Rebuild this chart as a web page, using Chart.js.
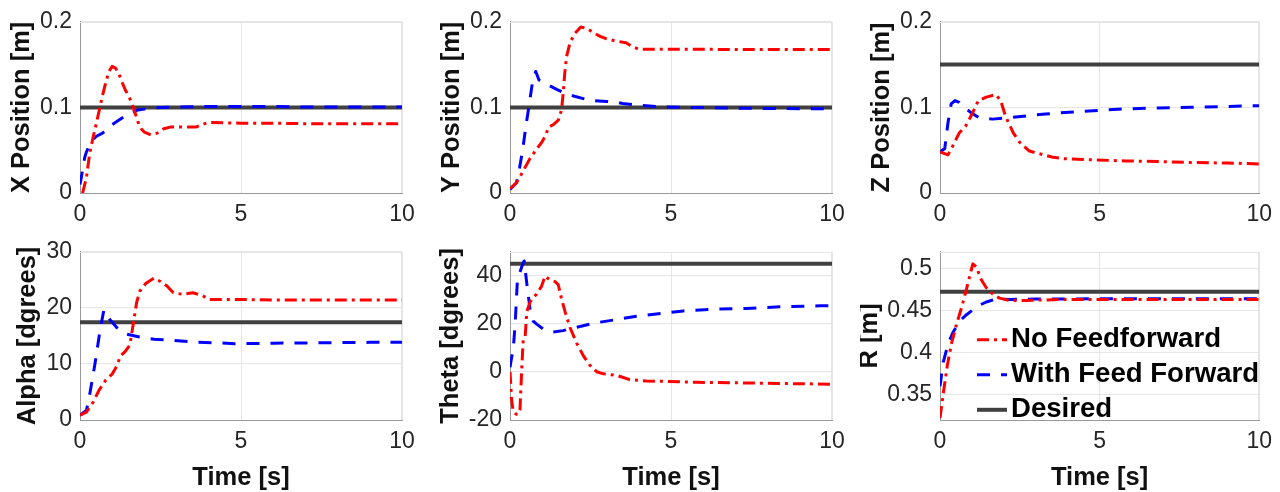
<!DOCTYPE html>
<html>
<head>
<meta charset="utf-8">
<script src="https://cdn.jsdelivr.net/npm/chart.js@4"></script>
<style>
html,body{margin:0;padding:0;background:#fff;}
body{width:1280px;height:492px;position:relative;overflow:hidden;}
.p{position:absolute;}
canvas{display:block;}
</style>
</head>
<body>
<script>
// ---------- data ----------
const timeTicks = [0, 5, 10];
const timeRange = [0, 10];
const posTicks = [0, 0.1, 0.2];
const posRange = [0, 0.2];
const alphaTicks = [0, 10, 20, 30];
const alphaRange = [0, 30];
const thetaTicks = [-20, 0, 20, 40];
const thetaRange = [-20, 50];
const rTicks = [0.35, 0.4, 0.45, 0.5];
const rRange = [0.32, 0.52];
const seriesLabels = ['No Feedforward', 'With Feed Forward', 'Desired'];
const yTitles = ['X Position [m]', 'Y Position [m]', 'Z Position [m]', 'Alpha [dgrees]', 'Theta [dgrees]', 'R [m]'];
const xTitle = 'Time [s]';

// [time s, value]
const xNoFF = [[0.08,0],[0.2,0.018],[0.3,0.046],[0.4,0.064],[0.5,0.08],[0.6,0.097],[0.7,0.114],[0.8,0.129],[0.9,0.142],[1.0,0.148],[1.1,0.146],[1.2,0.14],[1.3,0.13],[1.4,0.121],[1.5,0.114],[1.6,0.106],[1.7,0.095],[1.8,0.083],[1.9,0.075],[2.0,0.071],[2.2,0.068],[2.4,0.07],[2.6,0.075],[2.8,0.077],[3.0,0.077],[3.3,0.077],[3.6,0.077],[3.8,0.08],[4.0,0.0825],[4.5,0.082],[5,0.0815],[6,0.0815],[7,0.081],[8,0.081],[9,0.081],[10,0.081]];
const xFF = [[0,0.01],[0.05,0.02],[0.1,0.032],[0.15,0.042],[0.2,0.048],[0.3,0.056],[0.4,0.062],[0.5,0.066],[0.6,0.068],[0.7,0.07],[0.8,0.073],[0.9,0.077],[1.0,0.08],[1.2,0.085],[1.4,0.09],[1.6,0.094],[1.8,0.097],[2.0,0.098],[2.2,0.099],[2.5,0.1],[3,0.1005],[4,0.101],[5,0.101],[6,0.101],[7,0.1005],[8,0.1005],[9,0.1005],[10,0.1005]];
const xDesired = [[0,0.1],[10,0.1]];

const yNoFF = [[0,0.005],[0.2,0.012],[0.4,0.025],[0.6,0.039],[0.8,0.05],[1.0,0.06],[1.1,0.067],[1.2,0.077],[1.35,0.08],[1.5,0.085],[1.6,0.097],[1.65,0.116],[1.7,0.14],[1.76,0.16],[1.86,0.175],[2.0,0.186],[2.2,0.194],[2.4,0.192],[2.6,0.187],[2.8,0.183],[3.0,0.18],[3.3,0.1775],[3.6,0.1755],[3.8,0.171],[4.0,0.168],[5,0.168],[6,0.168],[7,0.1675],[8,0.1675],[9,0.1675],[10,0.1675]];
const yFF = [[0,0.004],[0.2,0.012],[0.3,0.03],[0.4,0.052],[0.5,0.08],[0.6,0.104],[0.7,0.13],[0.8,0.142],[0.9,0.132],[1.0,0.13],[1.2,0.126],[1.45,0.121],[1.65,0.1175],[2.0,0.113],[2.5,0.108],[3.0,0.107],[3.3,0.106],[3.5,0.1045],[4.0,0.1025],[4.8,0.1005],[6,0.0998],[7,0.099],[8,0.0988],[9,0.0985],[10,0.0983]];
const yDesired = [[0,0.1],[10,0.1]];

const zNoFF = [[0,0.048],[0.25,0.0445],[0.4,0.055],[0.6,0.07],[0.8,0.078],[1.0,0.092],[1.2,0.108],[1.45,0.112],[1.75,0.115],[1.9,0.108],[2.05,0.09],[2.3,0.07],[2.5,0.059],[2.8,0.049],[3.1,0.046],[3.5,0.042],[3.9,0.04],[4.8,0.0387],[5.8,0.0375],[6.8,0.0368],[7.9,0.0356],[9,0.035],[10,0.034]];
const zFF = [[0,0.048],[0.15,0.052],[0.25,0.082],[0.35,0.104],[0.47,0.108],[0.6,0.106],[0.8,0.099],[1.0,0.093],[1.25,0.0875],[1.65,0.0863],[2.2,0.088],[2.7,0.09],[3.3,0.0923],[3.9,0.094],[4.8,0.096],[5.8,0.0983],[6.8,0.0994],[7.9,0.1002],[8.9,0.101],[10,0.102]];
const zDesired = [[0,0.15],[10,0.15]];

const alphaNoFF = [[0,0.85],[0.2,1.4],[0.4,3.1],[0.6,5.4],[0.8,7.1],[1.0,8.2],[1.15,9.7],[1.25,11.4],[1.4,12.2],[1.55,13.4],[1.65,17],[1.76,21],[1.86,23],[2.05,24.4],[2.3,25.3],[2.5,24.7],[2.7,23.9],[2.9,22.7],[3.2,22.4],[3.5,22.7],[3.8,22.2],[4.0,21.5],[5,21.5],[6,21.4],[7,21.4],[8,21.4],[9,21.4],[10,21.4]];
const alphaFF = [[0,0.85],[0.2,1.7],[0.3,4.5],[0.47,10.2],[0.62,15.9],[0.74,19.6],[0.93,17.9],[1.14,16.5],[1.45,15.3],[1.85,14.8],[2.3,14.4],[2.9,14.2],[3.5,13.9],[4.3,13.75],[4.8,13.6],[6,13.7],[7,13.75],[8,13.8],[9,13.85],[10,13.85]];
const alphaDesired = [[0,17.45],[10,17.45]];

const thetaNoFF = [[0,0],[0.05,-11.7],[0.1,-16.3],[0.19,-17.6],[0.26,-17.6],[0.31,-15.7],[0.36,0],[0.41,13.3],[0.47,14.6],[0.52,25],[0.62,29],[0.72,31],[0.83,32.4],[0.98,35.7],[1.09,39.9],[1.24,38.3],[1.4,37.6],[1.5,36.3],[1.6,30.4],[1.71,25.1],[1.86,18.6],[2.07,12],[2.28,6.7],[2.48,2.8],[2.69,0.1],[2.9,-0.8],[3.31,-1.4],[3.72,-3.2],[4.24,-3.8],[4.76,-3.9],[5.79,-4.3],[6.82,-4.5],[7.86,-4.7],[9,-4.9],[10,-5.1]];
const thetaFF = [[0,2],[0.05,6],[0.1,9.3],[0.16,19.9],[0.23,38.3],[0.36,43.6],[0.44,46.2],[0.52,37],[0.62,26.4],[0.72,21.2],[0.83,19.9],[1.03,17.9],[1.34,16.6],[1.65,17.2],[2.07,18.6],[2.69,20.5],[3.31,21.8],[3.93,23.2],[4.76,24.5],[5.38,25.4],[6.31,26.1],[7.34,26.4],[8.38,27.1],[9.62,27.5],[10,27.6]];
const thetaDesired = [[0,45],[10,45]];

const rNoFF = [[0,0.3224],[0.1,0.351],[0.23,0.385],[0.36,0.411],[0.52,0.434],[0.67,0.453],[0.83,0.4755],[0.95,0.4943],[1.03,0.5057],[1.14,0.502],[1.29,0.487],[1.45,0.4773],[1.65,0.4698],[1.86,0.4649],[2.17,0.4622],[2.7,0.4622],[4,0.4634],[6,0.4634],[8,0.4634],[10,0.4634]];
const rFF = [[0,0.36],[0.1,0.3886],[0.26,0.4112],[0.41,0.4244],[0.62,0.4377],[0.83,0.4452],[1.03,0.4509],[1.24,0.4566],[1.45,0.4603],[1.76,0.4641],[2.2,0.4634],[3,0.4638],[5,0.4641],[7,0.4641],[10,0.4641]];
const rDesired = [[0,0.4725],[10,0.4725]];

// ---------- layout / style ----------
const FONT = '"Liberation Sans", Arial, Helvetica, sans-serif';
const panels = [
  {left:0,   top:0,   w:430, h:230, padR:28, padT:15, xH:37, tPad:12,   showX:false, title:yTitles[0], range:posRange,   ticks:posTicks,   s:[xNoFF, xFF, xDesired]},
  {left:430, top:0,   w:430, h:230, padR:28, padT:15, xH:37, tPad:12,   showX:false, title:yTitles[1], range:posRange,   ticks:posTicks,   s:[yNoFF, yFF, yDesired]},
  {left:860, top:0,   w:420, h:230, padR:18, padT:15, xH:37, tPad:12,   showX:false, title:yTitles[2], range:posRange,   ticks:posTicks,   s:[zNoFF, zFF, zDesired]},
  {left:0,   top:230, w:430, h:262, padR:28, padT:14, xH:72, tPad:17.4, showX:true,  title:yTitles[3], range:alphaRange, ticks:alphaTicks, s:[alphaNoFF, alphaFF, alphaDesired]},
  {left:430, top:230, w:430, h:262, padR:28, padT:14, xH:72, tPad:10.8, showX:true,  title:yTitles[4], range:thetaRange, ticks:thetaTicks, s:[thetaNoFF, thetaFF, thetaDesired]},
  {left:860, top:230, w:420, h:262, padR:18, padT:14, xH:72, tPad:0,    showX:true,  title:yTitles[5], range:rRange,     ticks:rTicks,     s:[rNoFF, rFF, rDesired], legend:true}
];
const styles = [
  {borderColor:'#ff0000', borderWidth:3, borderDash:[12,5,3,5], order:0},
  {borderColor:'#0000ff', borderWidth:3, borderDash:[13,11], order:1},
  {borderColor:'#404040', borderWidth:4, borderDash:[], order:2}
];

function toPts(a){ return a.map(p => ({x:p[0], y:p[1]})); }
function fmt(v){ return String(Number(Number(v).toFixed(4))); }

const boxPlugin = {
  id:'boxFrame',
  beforeDatasetsDraw(chart){
    const {ctx, chartArea:a} = chart;
    ctx.save();
    ctx.strokeStyle = '#e4e4e4';
    ctx.lineWidth = 1;
    ctx.beginPath();
    ctx.moveTo(a.left, Math.round(a.top) + 0.5);
    ctx.lineTo(a.right, Math.round(a.top) + 0.5);
    ctx.moveTo(Math.round(a.right) - 0.5, a.top);
    ctx.lineTo(Math.round(a.right) - 0.5, a.bottom);
    ctx.stroke();
    ctx.restore();
  }
};

const legendPlugin = {
  id:'inLegend',
  afterDatasetsDraw(chart){
    const {ctx, chartArea:a} = chart;
    ctx.save();
    ctx.font = 'bold 27.6px ' + FONT;
    ctx.textBaseline = 'middle';
    ctx.textAlign = 'left';
    ctx.fillStyle = '#000';
    chart.data.datasets.forEach((ds, i) => {
      const y = a.top + 88 + i * 35;
      ctx.strokeStyle = ds.borderColor;
      ctx.lineWidth = ds.borderWidth;
      ctx.setLineDash(ds.borderDash || []);
      ctx.beginPath();
      ctx.moveTo(a.left + 37, y);
      ctx.lineTo(a.left + 67, y);
      ctx.stroke();
      ctx.setLineDash([]);
      ctx.fillText(ds.label, a.left + 71, y);
    });
    ctx.restore();
  }
};

panels.forEach(p => {
  const wrap = document.createElement('div');
  wrap.className = 'p';
  wrap.style.left = p.left + 'px';
  wrap.style.top = p.top + 'px';
  wrap.style.width = p.w + 'px';
  wrap.style.height = p.h + 'px';
  const cv = document.createElement('canvas');
  cv.width = p.w; cv.height = p.h;
  cv.style.width = p.w + 'px'; cv.style.height = p.h + 'px';
  wrap.appendChild(cv);
  document.body.appendChild(wrap);

  const datasets = p.s.map((arr, i) => Object.assign({
    label: seriesLabels[i],
    data: toPts(arr),
    pointRadius: 0,
    pointHoverRadius: 0,
    tension: 0,
    fill: false,
    borderCapStyle: 'butt',
    borderJoinStyle: 'round'
  }, styles[i]));

  new Chart(cv, {
    type: 'line',
    data: {datasets},
    options: {
      responsive: false,
      animation: false,
      devicePixelRatio: 1,
      events: [],
      layout: {padding: {left:0, right:p.padR, top:p.padT, bottom:0}},
      plugins: {legend: {display:false}, tooltip: {enabled:false}},
      scales: {
        x: {
          type: 'linear', min: timeRange[0], max: timeRange[1],
          afterBuildTicks: s => { s.ticks = timeTicks.map(v => ({value:v})); },
          afterFit: s => { s.height = p.xH; },
          ticks: {font:{family:FONT, size:23}, color:'#262626', padding:8, maxRotation:0, autoSkip:false, callback: v => fmt(v)},
          grid: {color:'#e6e6e6', lineWidth:1, drawTicks:false},
          border: {color:'#9a9a9a', width:1},
          title: {display:p.showX, text:xTitle, color:'#111', font:{family:FONT, size:25.5, weight:'bold', lineHeight:0.8}, padding:{top:0, bottom:4}}
        },
        y: {
          type: 'linear', min: p.range[0], max: p.range[1],
          afterBuildTicks: s => { s.ticks = p.ticks.map(v => ({value:v})); },
          afterFit: s => { s.width = 80; },
          ticks: {font:{family:FONT, size:23}, color:'#262626', padding:8, autoSkip:false, callback: v => fmt(v)},
          grid: {color:'#e6e6e6', lineWidth:1, drawTicks:false},
          border: {color:'#9a9a9a', width:1},
          title: {display:true, text:p.title, color:'#111', font:{family:FONT, size:25.5, weight:'bold', lineHeight:0.8}, padding:{top:p.tPad, bottom:0}}
        }
      }
    },
    plugins: p.legend ? [boxPlugin, legendPlugin] : [boxPlugin]
  });
});
</script>
</body>
</html>
